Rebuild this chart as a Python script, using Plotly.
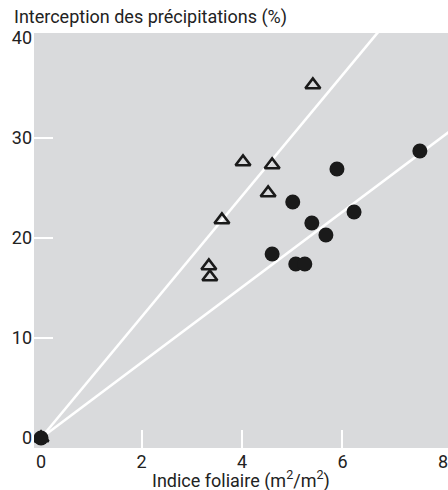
import plotly.graph_objects as go

# Data
tri_x = [0.0, 3.34, 3.36, 3.6, 4.02, 4.52, 4.6, 5.41]
tri_y = [0.0, 17.2, 16.1, 21.8, 27.6, 24.5, 27.3, 35.3]
circ_x = [0.0, 4.6, 5.07, 5.25, 5.01, 5.39, 5.67, 5.89, 6.23, 7.54]
circ_y = [0.0, 18.4, 17.4, 17.4, 23.6, 21.5, 20.3, 26.9, 22.6, 28.7]

slope_tri = 6.05
slope_circ = 3.77
line_x = [0.0, 8.3]

x_ticks = [0, 2, 4, 6, 8]
y_ticks = [0, 10, 20, 30, 40]
x_marks = [2, 4, 6]
y_marks = [10, 20, 30]

xr = [-0.14, 8.1]
yr = [-1.0, 40.5]

fig = go.Figure()
fig.add_trace(go.Scatter(x=line_x, y=[slope_tri * v for v in line_x], mode="lines",
                         line=dict(color="white", width=2.6), hoverinfo="skip"))
fig.add_trace(go.Scatter(x=line_x, y=[slope_circ * v for v in line_x], mode="lines",
                         line=dict(color="white", width=2.6), hoverinfo="skip"))
fig.add_trace(go.Scatter(x=tri_x, y=tri_y, mode="markers",
                         marker=dict(symbol="triangle-up-open", size=13, color="#1a1a1a",
                                     line=dict(width=2.6, color="#1a1a1a"))))
fig.add_trace(go.Scatter(x=circ_x, y=circ_y, mode="markers",
                         marker=dict(symbol="circle", size=15, color="#1a1a1a",
                                     line=dict(width=0))))
# overlay axes for the white inside tick marks
fig.add_trace(go.Scatter(x=[None], y=[None], xaxis="x2", yaxis="y2", showlegend=False))

font = dict(family="Roboto, Liberation Sans, Arial, sans-serif", size=18, color="#222222")

fig.update_layout(
    width=448, height=490,
    margin=dict(l=34, r=0, t=33, b=42),
    paper_bgcolor="white", plot_bgcolor="#d9dadc",
    showlegend=False,
    font=font,
    xaxis=dict(range=xr, tickvals=x_ticks, ticks="", showgrid=False, zeroline=False,
               showline=False, tickfont=font, ticklabelstandoff=1,
               ticklabeloverflow="allow"),
    yaxis=dict(range=yr, tickvals=y_ticks, ticks="", showgrid=False, zeroline=False,
               showline=False, tickfont=font, ticklabelstandoff=1,
               ticklabeloverflow="allow"),
    xaxis2=dict(range=xr, overlaying="x", tickvals=x_marks, ticks="inside", ticklen=18,
                tickwidth=2, tickcolor="white", showticklabels=False, showgrid=False,
                zeroline=False, showline=False, side="bottom"),
    yaxis2=dict(range=yr, overlaying="y", tickvals=y_marks, ticks="inside", ticklen=19,
                tickwidth=2, tickcolor="white", showticklabels=False, showgrid=False,
                zeroline=False, showline=False, side="left", anchor="x2"),
    annotations=[
        dict(text="Interception des précipitations (%)", xref="paper", yref="paper",
             x=-0.052, y=1.038, xanchor="left", yanchor="middle", showarrow=False, font=font),
        dict(text="Indice foliaire (m<sup>2</sup>/m<sup>2</sup>)", xref="paper", yref="paper",
             x=0.5, y=-0.077, xanchor="center", yanchor="middle", showarrow=False, font=font),
    ],
)

fig.write_html("out.html", config={"displayModeBar": False},
               post_script="document.body.style.margin='0';")
